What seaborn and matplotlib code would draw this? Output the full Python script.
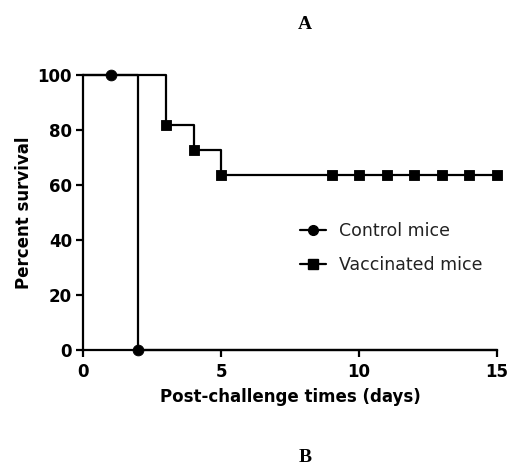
import numpy as np
import pandas as pd
import seaborn as sns
import matplotlib.pyplot as plt
from matplotlib.lines import Line2D

# ----------------------------------------------------------
# Data (Kaplan-Meier style survival curves)
# ----------------------------------------------------------
control_days = [0, 2, 15]
control_surv = [100, 0, 0]
control_mark_days = [1, 2]
control_mark_surv = [100, 0]

vacc_days = [0, 3, 4, 5, 15]
vacc_surv = [100, 81.8, 72.7, 63.6, 63.6]
vacc_mark_days = [3, 4, 5, 9, 10, 11, 12, 13, 14, 15]
vacc_mark_surv = [81.8, 72.7, 63.6, 63.6, 63.6, 63.6, 63.6, 63.6, 63.6, 63.6]

x_ticks = [0, 5, 10, 15]
y_ticks = [0, 20, 40, 60, 80, 100]

sns.set_style("ticks")
plt.rcParams['font.family'] = ['DejaVu Sans']
plt.rcParams['text.color'] = 'black'
plt.rcParams['axes.labelcolor'] = 'black'
plt.rcParams['xtick.color'] = 'black'
plt.rcParams['ytick.color'] = 'black'
plt.rcParams['axes.edgecolor'] = 'black'

fig = plt.figure(figsize=(5.13, 4.68), dpi=100)
ax = fig.add_axes([0.162, 0.252, 0.807, 0.588])

ctrl = pd.DataFrame({"day": control_days, "surv": control_surv})
vacc = pd.DataFrame({"day": vacc_days, "surv": vacc_surv})

sns.lineplot(data=vacc, x="day", y="surv", estimator=None, sort=False,
             drawstyle="steps-post", color="black", lw=1.6, ax=ax, clip_on=False)
sns.lineplot(data=ctrl, x="day", y="surv", estimator=None, sort=False,
             drawstyle="steps-post", color="black", lw=1.6, ax=ax, clip_on=False)

sns.scatterplot(x=vacc_mark_days, y=vacc_mark_surv, marker="s", s=60,
                color="black", edgecolor="black", ax=ax, clip_on=False, zorder=5)
sns.scatterplot(x=control_mark_days, y=control_mark_surv, marker="o", s=60,
                color="black", edgecolor="black", ax=ax, clip_on=False, zorder=5)

ax.set_xlim(0, 15)
ax.set_ylim(0, 100)
ax.set_xticks(x_ticks)
ax.set_yticks(y_ticks)
for lab in ax.get_xticklabels() + ax.get_yticklabels():
    lab.set_fontweight("bold")
    lab.set_fontsize(12)
ax.tick_params(width=1.6, length=5, direction="out", color="black")
ax.tick_params(axis="x", pad=4)
ax.tick_params(axis="y", pad=3)
for side in ["left", "bottom"]:
    ax.spines[side].set_linewidth(1.6)
sns.despine(ax=ax)

ax.set_xlabel("Post-challenge times (days)", fontsize=12, fontweight="bold", labelpad=5)
ax.set_ylabel("Percent survival", fontsize=12, fontweight="bold", labelpad=3)

handles = [
    Line2D([], [], color="black", lw=1.6, marker="o", markersize=7),
    Line2D([], [], color="black", lw=1.6, marker="s", markersize=7),
]
leg = ax.legend(handles, ["Control mice", "Vaccinated mice"], frameon=False,
                fontsize=12.5, loc="center left", bbox_to_anchor=(0.485, 0.37),
                handlelength=1.5, handletextpad=0.8, labelspacing=0.95)
for t in leg.get_texts():
    t.set_color("#222222")

fig.text(0.595, 0.948, "A", family=["Liberation Serif", "DejaVu Serif"],
         fontweight="bold", fontsize=14, ha="center", va="center")
fig.text(0.595, 0.022, "B", family=["Liberation Serif", "DejaVu Serif"],
         fontweight="bold", fontsize=14, ha="center", va="center")

fig.savefig("out.png", dpi=100)
